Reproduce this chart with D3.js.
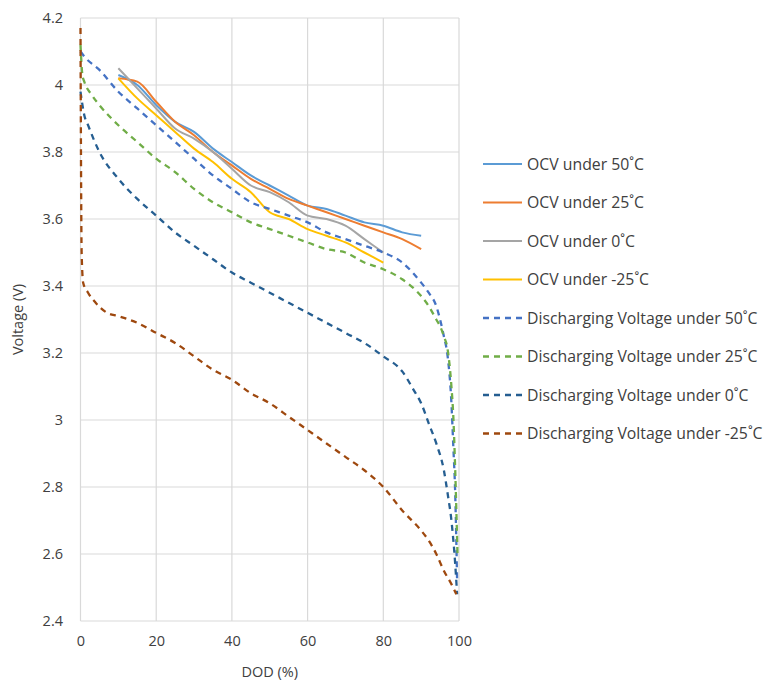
<!DOCTYPE html>
<html>
<head>
<meta charset="utf-8">
<script src="https://cdn.jsdelivr.net/npm/d3@7"></script>
<style>
  html, body { margin: 0; padding: 0; background: #fff; }
  svg { display: block; font-family: "Open Sans", "Liberation Sans", sans-serif; }
</style>
</head>
<body>
<svg id="chart" width="771" height="684"></svg>
<script>
// ---------- data ----------
const xTicks = [0, 20, 40, 60, 80, 100];
const yTicks = [2.4, 2.6, 2.8, 3.0, 3.2, 3.4, 3.6, 3.8, 4.0, 4.2];
const yTickLabels = ["2.4", "2.6", "2.8", "3", "3.2", "3.4", "3.6", "3.8", "4", "4.2"];

const seriesNames = [
  "OCV under 50˚C",
  "OCV under 25˚C",
  "OCV under 0˚C",
  "OCV under -25˚C",
  "Discharging Voltage under 50˚C",
  "Discharging Voltage under 25˚C",
  "Discharging Voltage under 0˚C",
  "Discharging Voltage under -25˚C"
];

const ocv50Dod = [10, 15, 20, 25, 30, 35, 40, 45, 50, 55, 60, 65, 70, 75, 80, 85, 90];
const ocv50V   = [4.03, 4.00, 3.94, 3.89, 3.86, 3.81, 3.77, 3.73, 3.70, 3.67, 3.64, 3.63, 3.61, 3.59, 3.58, 3.56, 3.55];

const ocv25Dod = [10, 15, 20, 25, 30, 35, 40, 45, 50, 55, 60, 65, 70, 75, 80, 85, 90];
const ocv25V   = [4.02, 4.01, 3.95, 3.89, 3.85, 3.80, 3.76, 3.72, 3.69, 3.66, 3.64, 3.62, 3.60, 3.58, 3.56, 3.54, 3.51];

const ocv0Dod = [10, 15, 20, 25, 30, 35, 40, 45, 50, 55, 60, 65, 70, 75, 80];
const ocv0V   = [4.05, 3.99, 3.93, 3.87, 3.84, 3.80, 3.75, 3.70, 3.68, 3.65, 3.61, 3.60, 3.58, 3.54, 3.50];

const ocvM25Dod = [10, 15, 20, 25, 30, 35, 40, 45, 50, 55, 60, 65, 70, 75, 80];
const ocvM25V   = [4.02, 3.96, 3.91, 3.86, 3.81, 3.77, 3.72, 3.68, 3.62, 3.60, 3.57, 3.55, 3.53, 3.50, 3.47];

const dis50Dod = [0, 1, 5, 10, 15, 20, 25, 30, 35, 40, 45, 50, 55, 60, 65, 70, 75, 80, 85, 90, 92, 94, 95, 96, 97, 98, 98.5, 99, 99.5];
const dis50V   = [4.10, 4.085, 4.045, 3.98, 3.93, 3.88, 3.83, 3.78, 3.73, 3.69, 3.65, 3.63, 3.61, 3.59, 3.56, 3.54, 3.52, 3.50, 3.47, 3.41, 3.38, 3.34, 3.30, 3.25, 3.19, 3.05, 2.92, 2.78, 2.52];

const dis25Dod = [0, 0.5, 1, 3, 5, 10, 15, 20, 25, 30, 35, 40, 45, 50, 55, 60, 65, 70, 75, 80, 85, 90, 92, 94, 95, 96, 97, 98, 98.5, 99, 99.6];
const dis25V   = [4.12, 4.03, 4.01, 3.97, 3.94, 3.88, 3.83, 3.78, 3.74, 3.69, 3.65, 3.62, 3.59, 3.57, 3.55, 3.53, 3.51, 3.50, 3.47, 3.45, 3.42, 3.37, 3.34, 3.30, 3.28, 3.25, 3.21, 3.10, 3.01, 2.85, 2.60];

const dis0Dod = [0, 1, 2, 5, 10, 15, 20, 25, 30, 35, 40, 45, 50, 55, 60, 65, 70, 75, 80, 85, 88, 90, 92, 94, 96, 97, 98, 99, 99.5];
const dis0V   = [3.98, 3.91, 3.88, 3.80, 3.72, 3.66, 3.61, 3.56, 3.52, 3.48, 3.44, 3.41, 3.38, 3.35, 3.32, 3.29, 3.26, 3.23, 3.19, 3.145, 3.09, 3.05, 2.99, 2.93, 2.85, 2.78, 2.70, 2.57, 2.48];

const disM25Dod = [0, 0.3, 0.7, 2, 4, 7, 10, 15, 20, 25, 30, 35, 40, 45, 50, 55, 60, 65, 70, 75, 80, 85, 90, 92, 94, 96, 98, 99.3];
const disM25V   = [4.17, 3.50, 3.41, 3.38, 3.35, 3.32, 3.31, 3.29, 3.26, 3.23, 3.19, 3.15, 3.12, 3.08, 3.05, 3.01, 2.97, 2.93, 2.89, 2.85, 2.80, 2.73, 2.67, 2.64, 2.60, 2.55, 2.51, 2.48];

const seriesDod = [ocv50Dod, ocv25Dod, ocv0Dod, ocvM25Dod, dis50Dod, dis25Dod, dis0Dod, disM25Dod];
const seriesV   = [ocv50V, ocv25V, ocv0V, ocvM25V, dis50V, dis25V, dis0V, disM25V];

// ---------- styles ----------
const colors = ["#5B9BD5", "#ED7D31", "#A5A5A5", "#FFC000", "#4472C4", "#70AD47", "#255E91", "#9E480E"];
const dashed = [false, false, false, false, true, true, true, true];

// ---------- drawing ----------
const svg = d3.select("#chart");
const x = d3.scaleLinear().domain([0, 100]).range([80.5, 459]);
const y = d3.scaleLinear().domain([2.4, 4.2]).range([621, 18]);

// gridlines
const grid = svg.append("g");
grid.selectAll("line.h").data(yTicks).join("line")
  .attr("x1", x(0)).attr("x2", x(100))
  .attr("y1", d => y(d)).attr("y2", d => y(d))
  .attr("stroke", "#d9d9d9").attr("stroke-width", 1.2);
grid.selectAll("line.v").data(xTicks).join("line")
  .attr("y1", y(4.2)).attr("y2", y(2.4))
  .attr("x1", d => x(d)).attr("x2", d => x(d))
  .attr("stroke", "#d9d9d9").attr("stroke-width", 1.2);

// axes (labels only, Excel style)
const yAxis = d3.axisLeft(y).tickValues(yTicks)
  .tickFormat((d, i) => yTickLabels[i]).tickSize(0).tickPadding(0);
const gy = svg.append("g").attr("transform", "translate(63,0)").call(yAxis);
gy.select(".domain").remove();
gy.selectAll("text").attr("font-size", 14.5).attr("fill", "#404040")
  .attr("font-family", "'Open Sans', sans-serif");

const xAxis = d3.axisBottom(x).tickValues(xTicks).tickFormat(d3.format("d")).tickSize(0).tickPadding(0);
const gx = svg.append("g").attr("transform", "translate(0,636)").call(xAxis);
gx.select(".domain").remove();
gx.selectAll("text").attr("font-size", 14.5).attr("fill", "#404040")
  .attr("font-family", "'Open Sans', sans-serif");

// axis titles
svg.append("text").attr("x", x(50)).attr("y", 677)
  .attr("text-anchor", "middle").attr("font-size", 14.5).attr("fill", "#404040")
  .text("DOD (%)");
svg.append("text").attr("transform", "translate(23," + y(3.3) + ") rotate(-90)")
  .attr("text-anchor", "middle").attr("font-size", 14.5).attr("fill", "#404040")
  .text("Voltage (V)");

// lines
const line = d3.line().x(d => x(d[0])).y(d => y(d[1])).curve(d3.curveMonotoneX);
const plot = svg.append("g");
seriesNames.forEach((name, i) => {
  const pts = seriesDod[i].map((d, j) => [d, seriesV[i][j]]);
  plot.append("path").datum(pts)
    .attr("d", line)
    .attr("fill", "none")
    .attr("stroke", colors[i])
    .attr("stroke-width", dashed[i] ? 2.3 : 2)
    .attr("stroke-dasharray", dashed[i] ? "6,5" : null)
    .attr("stroke-linejoin", "round");
});

// legend
const legend = svg.append("g");
seriesNames.forEach((name, i) => {
  const ly = 164 + i * 38.5;
  legend.append("line")
    .attr("x1", 483).attr("x2", 522).attr("y1", ly).attr("y2", ly)
    .attr("stroke", colors[i]).attr("stroke-width", dashed[i] ? 2.3 : 2)
    .attr("stroke-dasharray", dashed[i] ? "6,5" : null);
  legend.append("text")
    .attr("x", 527).attr("y", ly).attr("dy", "0.35em")
    .attr("font-size", 15.8).attr("fill", "#404040")
    .text(name);
});
</script>
</body>
</html>
